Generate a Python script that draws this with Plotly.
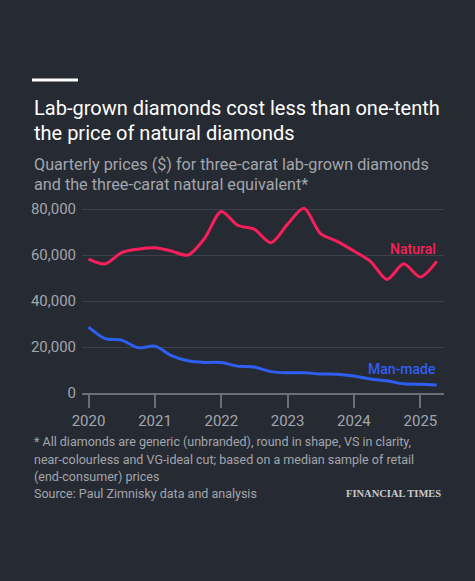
"""
Lab-grown vs natural diamond prices, FT dark style chart.
"""
import plotly.graph_objects as go

# Quarterly observations
quarters = [
    "2020-01-01", "2020-04-01", "2020-07-01", "2020-10-01",
    "2021-01-01", "2021-04-01", "2021-07-01", "2021-10-01",
    "2022-01-01", "2022-04-01", "2022-07-01", "2022-10-01",
    "2023-01-01", "2023-04-01", "2023-07-01", "2023-10-01",
    "2024-01-01", "2024-04-01", "2024-07-01", "2024-10-01",
    "2025-01-01", "2025-04-01",
]
natural = [58300, 56200, 61100, 62600, 63200, 61800, 60000, 67300,
           79000, 73000, 71300, 65400, 73500, 80400, 69400, 66000,
           61800, 57300, 49400, 56200, 50500, 57300]
man_made = [28700, 23700, 23000, 19700, 20400, 16300, 14000, 13300,
            13300, 11700, 11300, 9300, 8800, 8800, 8300, 8200,
            7400, 6100, 5300, 4000, 3800, 3500]

year_ticks = ["2020-01-01", "2021-01-01", "2022-01-01", "2023-01-01", "2024-01-01", "2025-01-01"]
year_labels = ["2020", "2021", "2022", "2023", "2024", "2025"]
y_ticks = [0, 20000, 40000, 60000, 80000]

# Page geometry (px)
W, H = 475, 581
L, R, T, B = 82, 31, 200, 188

BG = "#262a33"
RED = "#fa1f5b"
BLUE = "#2f5ff2"
GREY_TXT = "#a3a6ab"
FONT = "Roboto"


def xp(px):
    return (px - L) / (W - L - R)


def yp(py):
    return (H - B - py) / (H - T - B)


fig = go.Figure()
fig.add_trace(go.Scatter(x=quarters, y=natural, mode="lines",
                         line=dict(color=RED, width=3, shape="spline", smoothing=0.8),
                         hoverinfo="skip"))
fig.add_trace(go.Scatter(x=quarters, y=man_made, mode="lines",
                         line=dict(color=BLUE, width=3, shape="spline", smoothing=0.8),
                         hoverinfo="skip"))

annotations = []


def add_text(text, px, py, size, color, anchor="left", family=FONT, weight=None):
    f = dict(family=family, size=size, color=color)
    if weight:
        f["weight"] = weight
    annotations.append(dict(text=text, x=xp(px), y=yp(py), xref="paper", yref="paper",
                            xanchor=anchor, yanchor="middle", showarrow=False, font=f))


add_text("Lab-grown diamonds cost less than one-tenth", 32, 108, 20, "#ffffff")
add_text("the price of natural diamonds", 32, 133, 20, "#ffffff")
add_text("Quarterly prices ($) for three-carat lab-grown diamonds", 32, 164, 16.2, GREY_TXT)
add_text("and the three-carat natural equivalent*", 32, 184, 16.2, GREY_TXT)

add_text("Natural", 438, 249, 14, RED, anchor="right", weight=500)
add_text("Man-made", 438, 369, 14, BLUE, anchor="right", weight=500)

add_text("* All diamonds are generic (unbranded), round in shape, VS in clarity,", 32, 441.5, 12.5, GREY_TXT)
add_text("near-colourless and VG-ideal cut; based on a median sample of retail", 32, 459, 12.5, GREY_TXT)
add_text("(end-consumer) prices", 32, 476, 12.5, GREY_TXT)
add_text("Source: Paul Zimnisky data and analysis", 32, 493, 12.5, GREY_TXT)
add_text("FINANCIAL TIMES", 443, 493, 10.5, "#c9cacc", anchor="right",
         family="Liberation Serif", weight=700)

fig.update_layout(
    width=W, height=H,
    margin=dict(l=L, r=R, t=T, b=B, pad=0),
    paper_bgcolor=BG, plot_bgcolor=BG,
    showlegend=False,
    annotations=annotations,
    shapes=[dict(type="rect", xref="paper", yref="paper",
                 x0=xp(32), x1=xp(78), y0=yp(81.5), y1=yp(78.5),
                 fillcolor="#ffffff", line=dict(width=0))],
    xaxis=dict(
        type="date", range=["2019-11-26", "2025-05-11"],
        tickvals=year_ticks, ticktext=year_labels,
        showgrid=False, zeroline=False,
        showline=True, linecolor="#6c6f76", linewidth=1.5,
        ticks="outside", ticklen=13, tickcolor="#6c6f76", tickwidth=1.5,
        tickfont=dict(family=FONT, size=15, color=GREY_TXT),
        fixedrange=True,
    ),
    yaxis=dict(
        range=[0, 84000], tickvals=y_ticks, tickformat=",d",
        showgrid=True, gridcolor="#3d4049", gridwidth=1,
        zeroline=False, showline=False, ticks="",
        ticklabelstandoff=5,
        tickfont=dict(family=FONT, size=15, color=GREY_TXT),
        fixedrange=True,
    ),
)

fig.write_html("out.html", config={"displayModeBar": False},
               post_script="document.body.style.margin='0';document.body.style.overflow='hidden';")
